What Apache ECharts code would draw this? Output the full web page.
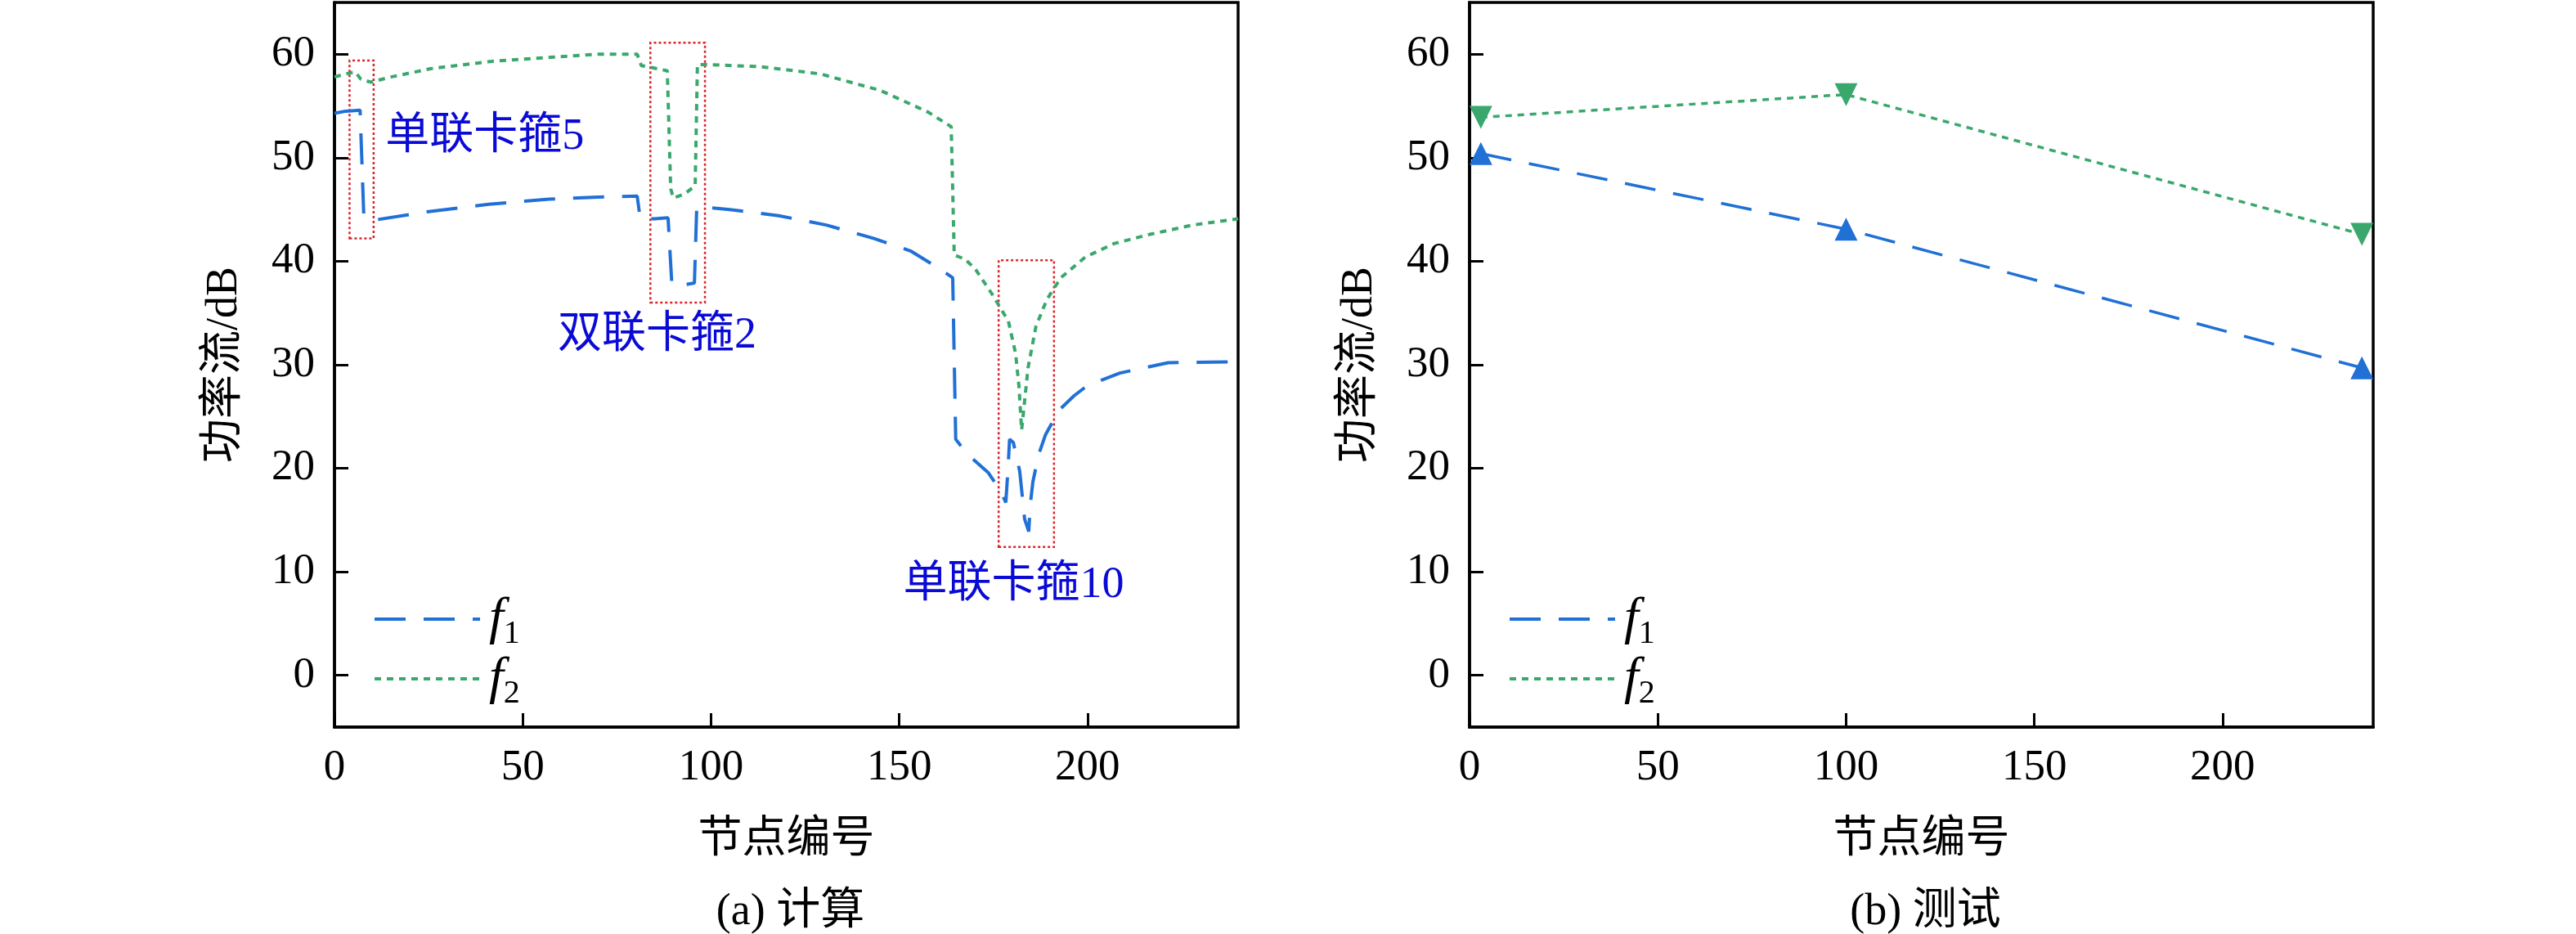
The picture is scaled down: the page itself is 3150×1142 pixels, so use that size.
<!DOCTYPE html>
<html>
<head>
<meta charset="utf-8">
<script src="https://cdn.jsdelivr.net/npm/echarts@6/dist/echarts.min.js"></script>
<style>html,body{margin:0;padding:0;background:#fff;}#c{width:3150px;height:1142px;}</style>
</head>
<body>
<div id="c"></div>
<script>
const xTicks = [0, 50, 100, 150, 200];
const yTicks = [0, 10, 20, 30, 40, 50, 60];
const seriesNames = ['f1', 'f2'];
const xName = '节点编号';
const yName = '功率流/dB';
const panelTitles = ['(a) 计算', '(b) 测试'];

// (a) calculation: [node, power flow dB]
const calcF1 = [[0,54.3],[3,54.5],[6.8,54.6],[7.8,44.3],[11,44.0],[25,44.8],[41,45.5],[57,46.0],[70,46.2],[80.4,46.3],[81.2,44.1],[85,44.1],[88.6,44.2],[89.6,37.8],[92.5,37.7],[95.6,37.9],[96.2,45.1],[98.7,45.2],[105,45.0],[118,44.4],[130.6,43.5],[143.3,42.2],[153,41.0],[161,39.2],[164.2,38.4],[165,22.8],[168,21.4],[173.6,19.6],[176.8,17.9],[178.3,16.7],[178.9,20.0],[179.3,22.8],[180.3,22.5],[182,19.7],[183.3,15.1],[184.4,13.9],[184.8,16.5],[185.5,18.7],[187,21.3],[188.8,23.2],[192.4,25.6],[196.4,27.0],[200,28.0],[208.6,29.2],[221.4,30.2],[240,30.3]];
const calcF2 = [[0,57.8],[3,58.1],[5.5,58.3],[7,57.6],[9.6,57.3],[15,57.8],[25.5,58.6],[41.4,59.3],[57.3,59.7],[70,60.0],[80.4,60.0],[81.5,58.9],[84.4,58.7],[88.4,58.4],[89.3,47.0],[90,46.1],[93,46.5],[95.8,47.3],[96.4,59.0],[98.7,59.0],[113,58.8],[129,58.1],[145,56.5],[157.7,54.4],[163.8,53.0],[164.6,40.6],[167.5,40.2],[170.3,39.2],[174.7,36.8],[179,34.2],[180.9,31.1],[181.8,27.9],[182.5,23.7],[183.1,25.8],[184.2,29.7],[186.3,33.7],[189.2,36.3],[192.9,38.4],[199.4,40.4],[207,41.7],[216.6,42.6],[228,43.5],[240,44.1]];

// (b) test
const testNodes = [3, 100, 237];
const testF1 = [50.4, 43.1, 29.7];
const testF2 = [53.9, 56.1, 42.6];

// annotation boxes [x1, y1, x2, y2] and labels
const boxes = [[4.0, 42.2, 10.4, 59.4], [83.9, 36.0, 98.4, 61.1], [176.4, 12.4, 191.1, 40.1]];
const notes = [
  { name: '单联卡箍5', x: 39.9, y: 52.0 },
  { name: '双联卡箍2', x: 85.7, y: 32.8 },
  { name: '单联卡箍10', x: 180.4, y: 8.7 }
];

const FONT = "'Liberation Serif', 'Noto Sans CJK SC', serif";
const BLUE = '#2070d6';
const GREEN = '#3aa86c';
const gridPos = [
  { left: 409, top: 3, width: 1105, height: 886 },
  { left: 1797, top: 3, width: 1105, height: 886 }
];

function xAxis(i) {
  return {
    type: 'value', gridIndex: i, min: 0, max: 240,
    name: xName, nameLocation: 'middle', nameGap: 112,
    nameTextStyle: { fontFamily: FONT, fontSize: 54, color: '#000' },
    axisLine: { show: true, onZero: false, lineStyle: { color: '#000', width: 3.5 } },
    axisTick: { show: true, inside: true, length: 17, lineStyle: { color: '#000', width: 3 }, customValues: xTicks },
    axisLabel: { fontFamily: FONT, fontSize: 53, color: '#000', margin: 24, customValues: xTicks },
    splitLine: { show: false }
  };
}
function yAxis(i) {
  return {
    type: 'value', gridIndex: i, min: -5, max: 65,
    name: yName, nameLocation: 'middle', nameGap: 107, nameRotate: 90,
    nameTextStyle: { fontFamily: FONT, fontSize: 54, color: '#000' },
    axisLine: { show: true, onZero: false, lineStyle: { color: '#000', width: 3.5 } },
    axisTick: { show: true, inside: true, length: 17, lineStyle: { color: '#000', width: 3 }, customValues: yTicks },
    axisLabel: { fontFamily: FONT, fontSize: 53, color: '#000', margin: 24, customValues: yTicks },
    splitLine: { show: false }
  };
}
function legend(i) {
  return {
    orient: 'vertical', left: gridPos[i].left + 42, top: 720,
    itemWidth: 129, itemHeight: 14, itemGap: 3,
    data: seriesNames,
    itemStyle: { opacity: 0 },
    lineStyle: { width: 4 },
    textStyle: {
      color: '#000', fontFamily: FONT, fontSize: 64, lineHeight: 64,
      rich: {
        i: { fontFamily: FONT, fontStyle: 'italic', fontSize: 64, lineHeight: 64, color: '#000', padding: [0, 0, 0, 6] },
        s: { fontFamily: FONT, fontSize: 40, lineHeight: 64, color: '#000', verticalAlign: 'bottom', padding: [0, 0, -6, 0] }
      }
    },
    formatter: n => '{i|f}{s|' + n.slice(1) + '}'
  };
}

const option = {
  animation: false,
  backgroundColor: '#fff',
  title: panelTitles.map((t, i) => ({
    text: t, left: gridPos[i].left + gridPos[i].width / 2, top: 1084, textAlign: 'center',
    textStyle: { fontFamily: FONT, fontSize: 54, fontWeight: 'normal', color: '#000' }
  })),
  grid: gridPos.map(g => Object.assign({ show: true, borderColor: '#000', borderWidth: 3.5, containLabel: false }, g)),
  xAxis: [xAxis(0), xAxis(1)],
  yAxis: [yAxis(0), yAxis(1)],
  legend: [legend(0), legend(1)],
  series: [
    {
      name: seriesNames[0], type: 'line', xAxisIndex: 0, yAxisIndex: 0, data: calcF1,
      symbol: 'none', lineStyle: { color: BLUE, width: 4, type: [38, 22] }, itemStyle: { color: BLUE },
      markArea: {
        silent: true,
        itemStyle: { color: 'rgba(0,0,0,0)', borderColor: '#d8262c', borderWidth: 2.5, borderType: [3, 3] },
        data: boxes.map(b => [{ coord: [b[0], b[1]] }, { coord: [b[2], b[3]] }])
      }
    },
    {
      name: seriesNames[1], type: 'line', xAxisIndex: 0, yAxisIndex: 0, data: calcF2,
      symbol: 'none', lineStyle: { color: GREEN, width: 4, type: [8, 7] }, itemStyle: { color: GREEN },
      markPoint: {
        silent: true, symbol: 'circle', symbolSize: 0,
        label: { show: true, position: 'inside', formatter: p => p.name, fontFamily: FONT, fontSize: 54, color: '#0a0ad6' },
        data: notes.map(n => ({ name: n.name, coord: [n.x, n.y] }))
      }
    },
    {
      name: seriesNames[0], type: 'line', xAxisIndex: 1, yAxisIndex: 1,
      data: testNodes.map((x, k) => [x, testF1[k]]),
      symbol: 'triangle', symbolSize: 28,
      lineStyle: { color: BLUE, width: 3.5, type: [38, 22] }, itemStyle: { color: BLUE }
    },
    {
      name: seriesNames[1], type: 'line', xAxisIndex: 1, yAxisIndex: 1,
      data: testNodes.map((x, k) => [x, testF2[k]]),
      symbol: 'triangle', symbolRotate: 180, symbolSize: 28,
      lineStyle: { color: GREEN, width: 3.5, type: [8, 7] }, itemStyle: { color: GREEN }
    }
  ]
};

const chart = echarts.init(document.getElementById('c'));
chart.setOption(option);
</script>
</body>
</html>
